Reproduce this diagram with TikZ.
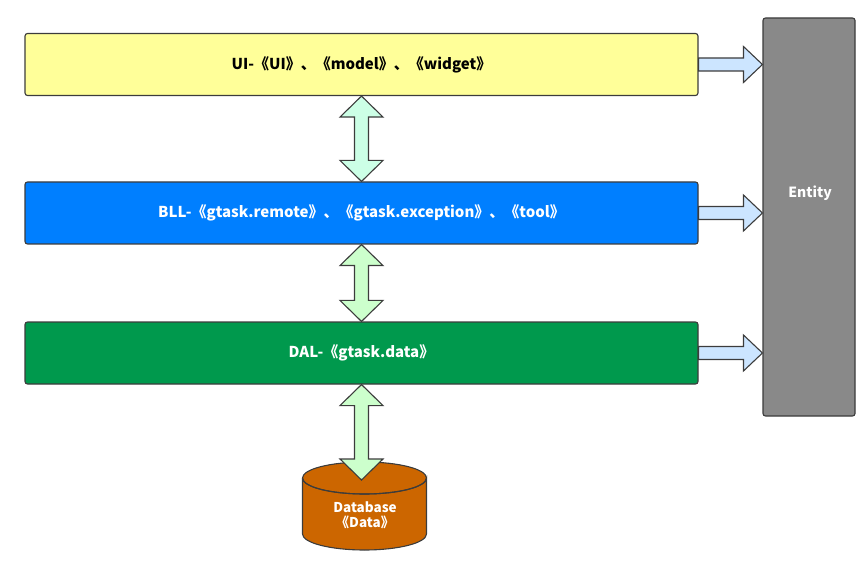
\documentclass[tikz,border=0pt]{standalone}
\usepackage{fontspec}
\setmainfont{Noto Sans CJK SC}
\usetikzlibrary{calc}

\definecolor{uiyellow}{HTML}{FFFF99}
\definecolor{bllblue}{HTML}{007FFF}
\definecolor{dalgreen}{HTML}{00994D}
\definecolor{entgray}{HTML}{898989}
\definecolor{dborange}{HTML}{CC6600}
\definecolor{edgegray}{HTML}{3C3C3C}
\definecolor{mintfill}{HTML}{CCFFE6}
\definecolor{greenfill}{HTML}{CCFFCC}
\definecolor{bluefill}{HTML}{CCE5FF}

\tikzset{
  layer/.style = {draw=edgegray, line width=1.1pt, rounded corners=2.5pt,
    minimum width=673pt, minimum height=62pt, font=\fontsize{15}{18}\selectfont\bfseries},
  conn/.style = {draw=edgegray, line width=1.1pt, line join=miter}
}

\newcommand{\vdarrow}[3]{%
  \draw[conn, fill=#3] let \p1=(#1), \p2=(#2) in
    (\x1,\y1) -- (\x1+21.5pt,\y1-21pt) -- (\x1+7pt,\y1-21pt) -- (\x1+7pt,\y2+21pt)
    -- (\x1+21.5pt,\y2+21pt) -- (\x1,\y2) -- (\x1-21.5pt,\y2+21pt) -- (\x1-7pt,\y2+21pt)
    -- (\x1-7pt,\y1-21pt) -- (\x1-21.5pt,\y1-21pt) -- cycle;}

\newcommand{\harrow}[2]{%
  \draw[conn, fill=bluefill] let \p1=(#1), \p2=(#2) in
    (\x1,\y1+6.5pt) -- (\x2-19pt,\y1+6.5pt) -- (\x2-19pt,\y1+18pt) -- (\x2,\y1)
    -- (\x2-19pt,\y1-18pt) -- (\x2-19pt,\y1-6.5pt) -- (\x1,\y1-6.5pt) -- cycle;}

\begin{document}
\begin{tikzpicture}[x=1pt, y=-1pt]
\useasboundingbox (0,0) rectangle (868,564);

% layers
\node[layer, fill=uiyellow, text=black] (ui) at (361.5,64.5) {UI-《UI》、《model》、《widget》};
\node[layer, fill=bllblue, text=white] (bll) at (361.5,213) {BLL-《gtask.remote》、《gtask.exception》、《tool》};
\node[layer, fill=dalgreen, text=white] (dal) at (361.5,353) {DAL-《gtask.data》};

% entity column
\node[draw=edgegray, line width=1.1pt, rounded corners=2.5pt, fill=entgray,
  minimum width=92pt, minimum height=398pt] (entity) at (809,217) {};
\node[text=white, font=\fontsize{14}{17}\selectfont\bfseries] (entlabel) at (810,193) {Entity};

% database
\fill[dborange] (302.5,478) -- (302.5,534) arc[start angle=180, end angle=360, x radius=62pt, y radius=16pt]
  -- (426.5,478) arc[start angle=0, end angle=180, x radius=62pt, y radius=16pt] -- cycle;
\draw[edgegray, line width=1.1pt] (302.5,478) -- (302.5,534) arc[start angle=180, end angle=360, x radius=62pt, y radius=16pt]
  -- (426.5,478) arc[start angle=0, end angle=-180, x radius=62pt, y radius=16pt];
\draw[edgegray, line width=1.1pt] (364.5,478) ellipse[x radius=62pt, y radius=16pt];
\node[text=white, align=center, font=\fontsize{13.5}{15.5}\selectfont\bfseries] (db) at (365,515) {Database\\《Data》};
\coordinate (dbtop) at (362,480);

% connectors
\vdarrow{ui.south}{bll.north}{mintfill}
\vdarrow{bll.south}{dal.north}{greenfill}
\vdarrow{dal.south}{dbtop}{greenfill}
\harrow{ui.east}{entity.west |- ui.east}
\harrow{bll.east}{entity.west |- bll.east}
\harrow{dal.east}{entity.west |- dal.east}

\end{tikzpicture}
\end{document}
